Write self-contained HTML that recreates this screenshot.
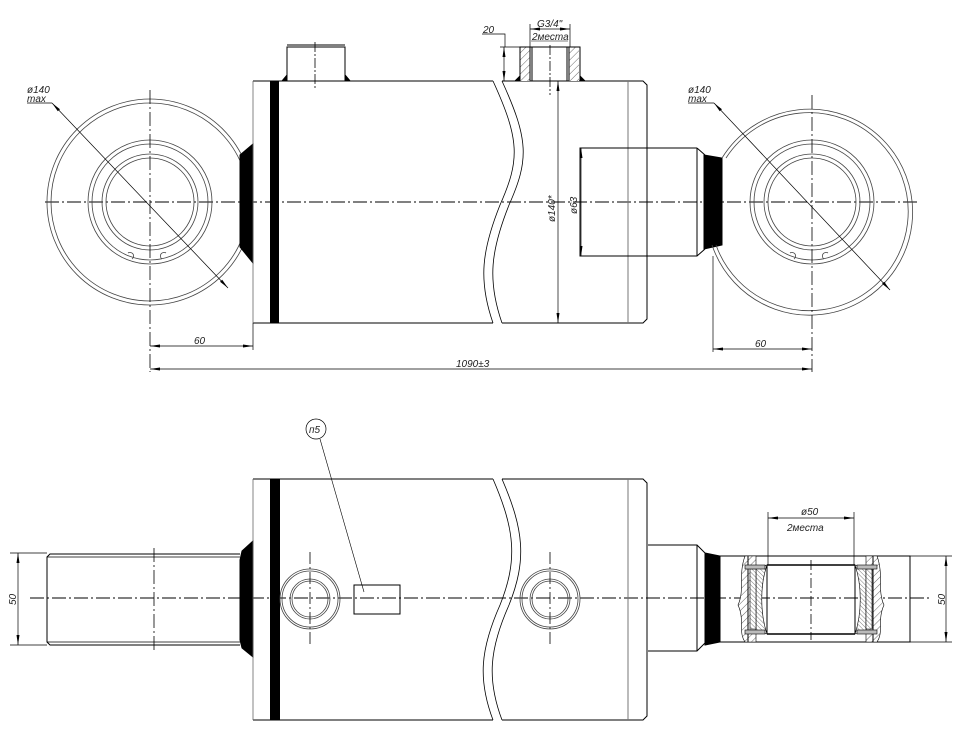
<!DOCTYPE html>
<html><head><meta charset="utf-8"><style>
html,body{margin:0;padding:0;background:#fff}
svg{display:block}
text{font-family:"Liberation Sans",sans-serif;font-style:italic;font-size:10px;fill:#222}
</style></head><body>
<svg width="963" height="731" viewBox="0 0 963 731" xmlns="http://www.w3.org/2000/svg">
<defs>
<pattern id="h" patternUnits="userSpaceOnUse" width="5" height="5" patternTransform="rotate(45)">
<rect width="5" height="5" fill="#fff"/><line x1="0" y1="0" x2="0" y2="5" stroke="#444" stroke-width="0.8"/></pattern>
<pattern id="h2" patternUnits="userSpaceOnUse" width="3" height="3" patternTransform="rotate(-45)">
<rect width="3" height="3" fill="#fff"/><line x1="0" y1="0" x2="0" y2="3" stroke="#444" stroke-width="0.7"/></pattern>
<marker id="a" viewBox="0 0 10 4" refX="10" refY="2" markerWidth="10" markerHeight="4" orient="auto-start-reverse" markerUnits="userSpaceOnUse"><path d="M0,0.5 L10,2 L0,3.5z" fill="#000"/></marker>
</defs>
<g fill="none" stroke="#000" stroke-width="1">

<line x1="45" y1="202" x2="918" y2="202" stroke-dasharray="14,3,2,3" stroke-width="0.9"/>
<circle cx="150" cy="202" r="103" stroke="#444" stroke-width="0.8"/>
<circle cx="150" cy="202" r="99" stroke="#444" stroke-width="0.8"/>
<circle cx="150" cy="202" r="62" stroke="#444" stroke-width="0.8"/>
<circle cx="150" cy="202" r="58" stroke="#444" stroke-width="0.8"/>
<circle cx="150" cy="202" r="48" stroke="#444" stroke-width="0.8"/>
<circle cx="150" cy="202" r="44" stroke="#444" stroke-width="0.8"/>
<path d="M128,253 a3,3 0 1 1 4,6 M166,253 a3,3 0 1 0 -4,6" stroke="#444" stroke-width="0.8"/>
<line x1="150" y1="90" x2="150" y2="372" stroke-dasharray="14,3,2,3" stroke-width="0.8"/>
<line x1="27" y1="103" x2="52" y2="103" stroke-width="0.7"/>
<line x1="52" y1="103" x2="228" y2="288" stroke-width="0.7" marker-start="url(#a)" marker-end="url(#a)"/>
<path d="M253,144 L240,155 L240,247 L253,263 Z" fill="#000"/>
<path d="M253,81 H493 M253,323 H493 M502,81 H643 L647,85 V319 L643,323 H502" />
<line x1="253" y1="81" x2="253" y2="323" stroke="#666" stroke-width="0.8"/>
<rect x="270" y="81" width="9" height="242" fill="#000" stroke="none"/>
<line x1="628" y1="81" x2="628" y2="323" stroke="#777"/>
<path d="M493,81 C520,140 520,160 500,205 C482,250 478,280 493,323" stroke-width="0.8"/>
<path d="M502,81 C529,140 529,160 509,205 C491,250 487,280 502,323" stroke-width="0.8"/>
<path d="M285,81 L287,75 V47 H345 V75 L350,81"/>
<line x1="287" y1="45" x2="345" y2="45"/>
<path d="M282,81 L287,75 V81Z M350,81 L345,75 V81Z" fill="#000"/>
<line x1="315" y1="42" x2="315" y2="88" stroke-dasharray="10,2,2,2" stroke-width="0.8"/>
<rect x="520" y="47" width="10" height="34" fill="url(#h)" stroke="none"/>
<rect x="569" y="47" width="10" height="34" fill="url(#h)" stroke="none"/>
<path d="M520,81 V47 H580 V81 M530,47 V81 M569,47 V81 M532,47 V81 M567,47 V81"/>
<path d="M515,81 L520,76 V81Z M585,81 L580,76 V81Z" fill="#000"/>
<line x1="550" y1="45" x2="550" y2="95" stroke-dasharray="10,2,2,2" stroke-width="0.8"/>
<polyline points="482,34 505,34 505,47" stroke-width="0.7"/>
<line x1="500" y1="47" x2="520" y2="47" stroke-width="0.7"/>
<line x1="504" y1="47" x2="504" y2="81" stroke-width="0.7" marker-start="url(#a)" marker-end="url(#a)"/>
<line x1="530" y1="24" x2="530" y2="47" stroke-width="0.7"/>
<line x1="570" y1="24" x2="570" y2="47" stroke-width="0.7"/>
<line x1="530" y1="29" x2="570" y2="29" stroke-width="0.7" marker-start="url(#a)" marker-end="url(#a)"/>
<line x1="531" y1="41" x2="568" y2="41" stroke-width="0.6"/>
<line x1="558" y1="81" x2="558" y2="323" stroke-width="0.7" marker-start="url(#a)" marker-end="url(#a)"/>
<path d="M697,148 H580 V256 H697 L705,249 M697,148 L705,155 M697,148 V256"/>
<line x1="581" y1="148" x2="581" y2="256" stroke-width="0.7" marker-start="url(#a)" marker-end="url(#a)"/>
<path d="M704,155 L722,158 L722,245 L704,249 Z" fill="#000"/>
<path d="M722,158 A103,103 0 1 1 712,245" stroke="#444" stroke-width="0.8"/>
<path d="M726,158 A99,99 0 1 1 716,245" stroke="#444" stroke-width="0.8"/>
<circle cx="812" cy="202" r="62" stroke="#444" stroke-width="0.8"/>
<circle cx="812" cy="202" r="58" stroke="#444" stroke-width="0.8"/>
<circle cx="812" cy="202" r="48" stroke="#444" stroke-width="0.8"/>
<circle cx="812" cy="202" r="44" stroke="#444" stroke-width="0.8"/>
<path d="M790,253 a3,3 0 1 1 4,6 M828,253 a3,3 0 1 0 -4,6" stroke="#444" stroke-width="0.8"/>
<line x1="812" y1="95" x2="812" y2="372" stroke-dasharray="14,3,2,3" stroke-width="0.8"/>
<line x1="688" y1="103" x2="714" y2="103" stroke-width="0.7"/>
<line x1="714" y1="103" x2="890" y2="290" stroke-width="0.7" marker-start="url(#a)" marker-end="url(#a)"/>
<line x1="253" y1="323" x2="253" y2="350" stroke-width="0.7"/>
<line x1="150" y1="346" x2="253" y2="346" stroke-width="0.7" marker-start="url(#a)" marker-end="url(#a)"/>
<line x1="713" y1="256" x2="713" y2="352" stroke-width="0.7"/>
<line x1="713" y1="349" x2="812" y2="349" stroke-width="0.7" marker-start="url(#a)" marker-end="url(#a)"/>
<line x1="150" y1="369" x2="812" y2="369" stroke-width="0.7" marker-start="url(#a)" marker-end="url(#a)"/>

<line x1="30" y1="598" x2="930" y2="598" stroke-dasharray="14,3,2,3" stroke-width="0.9"/>
<path d="M240,554 H50 L47,557 V642 L50,645 H240"/>
<line x1="47" y1="557" x2="240" y2="557" stroke-width="0.7"/>
<line x1="47" y1="642" x2="240" y2="642" stroke-width="0.7"/>
<line x1="154" y1="548" x2="154" y2="650" stroke-dasharray="14,3,2,3" stroke-width="0.8"/>
<line x1="10" y1="553" x2="47" y2="553" stroke-width="0.7"/>
<line x1="10" y1="645" x2="47" y2="645" stroke-width="0.7"/>
<line x1="18" y1="553" x2="18" y2="645" stroke-width="0.7" marker-start="url(#a)" marker-end="url(#a)"/>
<path d="M253,541 L242,551 L240,560 L240,640 L242,648 L253,657 Z" fill="#000"/>
<path d="M253,479 H493 M253,720 H493 M502,479 H643 L647,483 V716 L643,720 H502"/>
<line x1="253" y1="479" x2="253" y2="720" stroke="#666" stroke-width="0.8"/>
<rect x="270" y="479" width="10" height="241" fill="#000" stroke="none"/>
<line x1="628" y1="479" x2="628" y2="720" stroke="#777"/>
<path d="M493,479 C515,530 518,560 500,605 C480,650 478,680 493,720" stroke-width="0.8"/>
<path d="M502,479 C524,530 527,560 509,605 C489,650 487,680 502,720" stroke-width="0.8"/>
<g stroke="#444" stroke-width="0.8">
<circle cx="310" cy="599" r="30"/><circle cx="310" cy="599" r="28"/>
<circle cx="310" cy="599" r="20"/><circle cx="310" cy="599" r="18"/>
<circle cx="550" cy="599" r="30"/><circle cx="550" cy="599" r="28"/>
<circle cx="550" cy="599" r="20"/><circle cx="550" cy="599" r="18"/>
</g>
<line x1="310" y1="552" x2="310" y2="646" stroke-dasharray="12,3,2,3" stroke-width="0.8"/>
<line x1="550" y1="552" x2="550" y2="646" stroke-dasharray="12,3,2,3" stroke-width="0.8"/>
<rect x="354" y="585" width="46" height="29"/>
<circle cx="316" cy="429" r="10" stroke-width="0.7"/>
<line x1="320" y1="439" x2="364" y2="592" stroke-width="0.6"/>
<path d="M648,545 H697 L705,553 M648,651 H697 L705,643 M697,545 V651"/>
<path d="M705,553 L720,556 V642 L705,645 Z" fill="#000"/>
<path d="M720,556 H910 V642 H720"/>
<path d="M745,556 C738,575 745,590 738,605 C745,620 738,632 745,642 L756,642 V556 Z" fill="url(#h)" stroke-width="0.6"/>
<path d="M877,556 C884,575 877,590 884,605 C877,620 884,632 877,642 L866,642 V556 Z" fill="url(#h)" stroke-width="0.6"/>
<line x1="748" y1="556" x2="748" y2="642"/>
<line x1="873" y1="556" x2="873" y2="642"/>
<path d="M756,568 L767,565 C760,585 760,613 767,634 L756,631 Z" fill="url(#h2)" stroke-width="0.6"/>
<path d="M866,568 L855,565 C862,585 862,613 855,634 L866,631 Z" fill="url(#h2)" stroke-width="0.6"/>
<path d="M750,569 H756 V629 H750 Z M866,569 H872 V629 H866 Z" fill="url(#h2)" stroke-width="0.6"/>
<rect x="745" y="565" width="20" height="4" fill="#bbb" stroke-width="0.6"/>
<rect x="745" y="630" width="20" height="4" fill="#bbb" stroke-width="0.6"/>
<rect x="857" y="565" width="20" height="4" fill="#bbb" stroke-width="0.6"/>
<rect x="857" y="630" width="20" height="4" fill="#bbb" stroke-width="0.6"/>
<path d="M767,565 H855 M767,634 H855" stroke-width="1.6"/>
<path d="M767,565 V634 M855,565 V634"/>
<line x1="811" y1="560" x2="811" y2="640" stroke-dasharray="10,3,2,3" stroke-width="0.8"/>
<line x1="768" y1="512" x2="768" y2="565" stroke-width="0.7"/>
<line x1="854" y1="512" x2="854" y2="565" stroke-width="0.7"/>
<line x1="768" y1="518" x2="854" y2="518" stroke-width="0.7" marker-start="url(#a)" marker-end="url(#a)"/>
<line x1="910" y1="556" x2="952" y2="556" stroke-width="0.7"/>
<line x1="910" y1="642" x2="952" y2="642" stroke-width="0.7"/>
<line x1="946" y1="556" x2="946" y2="642" stroke-width="0.7" marker-start="url(#a)" marker-end="url(#a)"/>
</g>

<text x="27" y="93">ø140</text>
<text x="27" y="102">max</text>
<text x="688" y="93">ø140</text>
<text x="688" y="102">max</text>
<text x="194" y="344">60</text>
<text x="755" y="347">60</text>
<text x="456" y="367">1090±3</text>
<text x="483" y="33">20</text>
<text x="537" y="27" font-size="9">G3/4"</text>
<text x="532" y="40" font-size="9.5">2места</text>
<text transform="translate(555,222) rotate(-90)">ø140*</text>
<text transform="translate(577,214) rotate(-90)">ø63</text>
<text x="309" y="433" font-size="9">п5</text>
<text transform="translate(16,605) rotate(-90)">50</text>
<text transform="translate(945,605) rotate(-90)">50</text>
<text x="801" y="515">ø50</text>
<text x="787" y="531" font-size="12">2места</text>
</svg>
</body></html>
